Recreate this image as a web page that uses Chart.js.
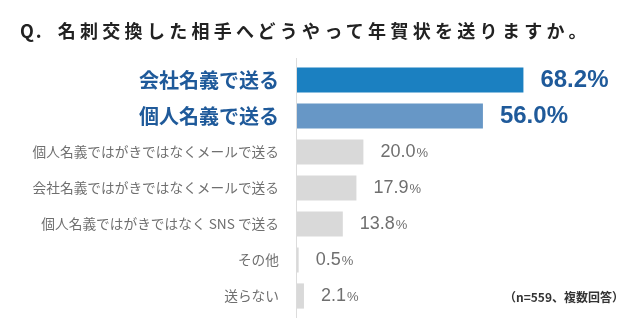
<!DOCTYPE html>
<html lang="ja">
<head>
<meta charset="UTF-8">
<title>名刺交換した相手へどうやって年賀状を送りますか</title>
<script src="https://cdn.jsdelivr.net/npm/chart.js"></script>
<style>
    body {
        margin: 0;
        background: #fff;
        font-family: "Noto Sans CJK JP", sans-serif;
    }
    .wrap {
        position: relative;
        width: 640px;
        height: 325px;
    }
    .question {
        position: absolute;
        left: 20px;
        top: 17px;
        font-size: 18px;
        font-weight: bold;
        letter-spacing: 4.3px;
        color: #222;
        white-space: nowrap;
    }
    .question .q {
        letter-spacing: 2px;
        margin-right: 14px;
    }
    .note {
        position: absolute;
        left: 504px;
        top: 288px;
        font-size: 12px;
        font-weight: bold;
        color: #333;
        white-space: nowrap;
    }
</style>
</head>
<body>
<div class="wrap">
    <div class="question"><span class="q">Q.</span>名刺交換した相手へどうやって年賀状を送りますか。</div>
    <canvas id="nengaChart" width="640" height="325"></canvas>
    <div class="note">（n=559、複数回答）</div>
</div>

<script>
    // 回答項目と割合（%）
    const answers = [
        '会社名義で送る',
        '個人名義で送る',
        '個人名義ではがきではなくメールで送る',
        '会社名義ではがきではなくメールで送る',
        '個人名義ではがきではなく SNS で送る',
        'その他',
        '送らない'
    ];
    const rates = [68.2, 56.0, 20.0, 17.9, 13.8, 0.5, 2.1];
    const barColors = ['#1b80c1', '#6797c6', '#d9d9d9', '#d9d9d9', '#d9d9d9', '#d9d9d9', '#d9d9d9'];

    const BLUE_TEXT = '#1f5a9a';
    const GRAY_TEXT = '#6f6f6f';

    // 棒の右に割合を描く（上位2項目は太字の青、それ以外はグレー）
    const valueLabels = {
        id: 'valueLabels',
        afterDatasetsDraw(chart) {
            const ctx = chart.ctx;
            const meta = chart.getDatasetMeta(0);
            ctx.save();
            ctx.textBaseline = 'middle';
            ctx.textAlign = 'left';
            meta.data.forEach((bar, i) => {
                const num = rates[i].toFixed(1);
                const x = bar.x + 17;
                const y = bar.y;
                if (i < 2) {
                    ctx.font = 'bold 24px "Liberation Sans", Arial, sans-serif';
                    ctx.fillStyle = BLUE_TEXT;
                    ctx.fillText(num + '%', x, y);
                } else {
                    ctx.font = '18px "Liberation Sans", Arial, sans-serif';
                    ctx.fillStyle = GRAY_TEXT;
                    ctx.fillText(num, x, y);
                    const w = ctx.measureText(num).width;
                    ctx.font = '13px "Liberation Sans", Arial, sans-serif';
                    ctx.fillText('%', x + w + 1, y + 1);
                }
            });
            ctx.restore();
        }
    };

    // 縦軸の線（棒の範囲より少し長め）
    const axisLine = {
        id: 'axisLine',
        afterDraw(chart) {
            const { ctx, chartArea } = chart;
            ctx.save();
            ctx.strokeStyle = '#dcdcdc';
            ctx.lineWidth = 1;
            ctx.beginPath();
            ctx.moveTo(chartArea.left - 0.5, chartArea.top - 4);
            ctx.lineTo(chartArea.left - 0.5, chartArea.bottom + 4);
            ctx.stroke();
            ctx.restore();
        }
    };

    new Chart(document.getElementById('nengaChart'), {
        type: 'bar',
        data: {
            labels: answers,
            datasets: [{
                data: rates,
                backgroundColor: barColors,
                borderWidth: 0,
                barPercentage: 0.7,
                categoryPercentage: 1.0
            }]
        },
        options: {
            indexAxis: 'y',
            responsive: false,
            animation: false,
            layout: {
                padding: { top: 62, bottom: 11, left: 0, right: 11 }
            },
            scales: {
                x: {
                    display: false,
                    min: 0,
                    max: 100
                },
                y: {
                    afterFit(scale) {
                        // 目盛りラベル分の上下余白は不要
                        scale.width = 297;
                        scale.paddingTop = 0;
                        scale.paddingBottom = 0;
                    },
                    grid: { display: false, drawTicks: false },
                    border: { display: false },
                    ticks: {
                        padding: 18,
                        autoSkip: false,
                        color: ctx => ctx.index < 2 ? BLUE_TEXT : GRAY_TEXT,
                        font: ctx => ctx.index < 2
                            ? { family: '"Noto Sans CJK JP", sans-serif', size: 20, weight: 'bold' }
                            : { family: '"Noto Sans CJK JP", sans-serif', size: 13.7, weight: 'normal' }
                    }
                }
            },
            plugins: {
                legend: { display: false },
                tooltip: { enabled: false }
            }
        },
        plugins: [valueLabels, axisLine]
    });
</script>
</body>
</html>
